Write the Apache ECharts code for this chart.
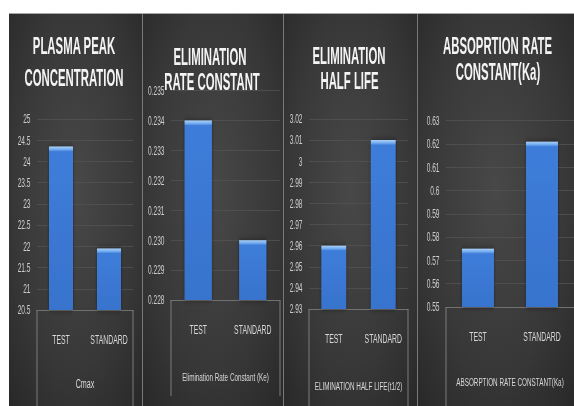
<!DOCTYPE html>
<html><head><meta charset="utf-8">
<script src="https://cdn.jsdelivr.net/npm/echarts@6/dist/echarts.min.js"></script>
<style>
html,body{margin:0;padding:0;background:#fff;overflow:hidden;width:574px;height:406px}
#c{width:1044px;height:406px;transform:scaleX(0.549808);transform-origin:0 0}
</style></head><body><div id="c"></div>
<script>
// ---- data ----
const categories = ['TEST', 'STANDARD'];
const cmax = [24.35, 21.95];
const ke = [0.234, 0.230];
const halfLife = [2.96, 3.01];
const ka = [0.575, 0.621];
const titleLines = [
  ['PLASMA PEAK', 'CONCENTRATION'],
  ['ELIMINATION', 'RATE CONSTANT'],
  ['ELIMINATION', 'HALF LIFE'],
  ['ABSOPRTION RATE', 'CONSTANT(Ka)']
];
const axisNames = ['Cmax', 'Elimination Rate Constant (Ke)', 'ELIMINATION HALF LIFE(t1/2)', 'ABSORPTION RATE CONSTANT(Ka)'];
const yMin = [20.5, 0.228, 2.93, 0.55];
const yMax = [25, 0.235, 3.02, 0.63];
const yStep = [0.5, 0.001, 0.01, 0.01];
const yDecimals = [1, 3, 2, 2];
const yKeepZeros = [false, true, false, false];

const seriesData = [cmax, ke, halfLife, ka];

// ---- layout (reference pixel coords; x scaled into the widened canvas) ----
const K = 1044 / 574;
const X = x => x * K;
const grids = [
  {l: 37, r: 133, t: 119, b: 310},
  {l: 171, r: 280, t: 90.7, b: 300},
  {l: 309, r: 408, t: 119, b: 309},
  {l: 446, r: 577, t: 120.7, b: 307}
];
const panels = [[9, 142.5], [142.5, 283.5], [283.5, 417.5], [417.5, 574]];
const titlePos = [
  [[74, 46], [74, 78]],
  [[210, 57.5], [212, 82]],
  [[349, 56], [349.5, 81]],
  [[497.5, 46], [498, 72]]
];
const nameGaps = [67, 71, 71, 69];
const boxLines = [
  [37, 310, 406], [133, 310, 406],
  [171, 300, 396], [280, 300, 396],
  [309, 309, 406], [408, 309, 406],
  [446, 307, 406]
];

const chart = echarts.init(document.getElementById('c'), null, {renderer: 'svg', width: 1044, height: 406});

const graphic = [];
panels.forEach(p => {
  graphic.push({
    type: 'rect', z: -100,
    shape: {x: X(p[0]), y: 13, width: X(p[1]) - X(p[0]), height: 393},
    style: {fill: new echarts.graphic.RadialGradient(0.5, 0.45, 0.75, [
      {offset: 0, color: '#484848'}, {offset: 0.6, color: '#383838'}, {offset: 1, color: '#282828'}
    ])}
  });
});
[142.5, 283.5, 417.5].forEach(x => graphic.push({
  type: 'line', z: 50, shape: {x1: X(x), y1: 13, x2: X(x), y2: 406},
  style: {stroke: '#7a7a7a', lineWidth: 1.8}
}));
graphic.push({type: 'line', z: 50, shape: {x1: X(9), y1: 13.5, x2: X(574), y2: 13.5}, style: {stroke: '#a8a8a8', lineWidth: 1.2}});
boxLines.forEach(b => graphic.push({
  type: 'line', z: 50, shape: {x1: X(b[0]), y1: b[1], x2: X(b[0]), y2: b[2]},
  style: {stroke: '#7c7c7c', lineWidth: 1.8}
}));
titleLines.forEach((lines, i) => lines.forEach((t, j) => graphic.push({
  type: 'text', z: 100, x: X(titlePos[i][j][0]), y: titlePos[i][j][1], scaleX: 0.9,
  style: {
    text: t, fill: '#f4f4f4', fontSize: 23, fontWeight: 'bold', fontFamily: 'Liberation Sans',
    align: 'center', verticalAlign: 'middle', textAlign: 'center', textVerticalAlign: 'middle',
    shadowBlur: 6, shadowColor: 'rgba(255,255,255,0.45)'
  }
})));

function fmt(i) {
  return v => yKeepZeros[i] ? v.toFixed(yDecimals[i]) : String(Number(v.toFixed(yDecimals[i])));
}
function barColor(i) {
  const g = grids[i];
  return p => {
    const h = (p.value - yMin[i]) / (yMax[i] - yMin[i]) * (g.b - g.t);
    const f = Math.min(0.5, 5 / h);
    return new echarts.graphic.LinearGradient(0, 0, 0, 1, [
      {offset: 0, color: '#a8d0fa'}, {offset: f * 0.6, color: '#72aaee'},
      {offset: f, color: '#3d7dd9'}, {offset: 1, color: '#3873cd'}
    ]);
  };
}

const option = {
  backgroundColor: 'transparent',
  animation: false,
  graphic: graphic,
  grid: grids.map(g => ({left: X(g.l), top: g.t, width: X(g.r) - X(g.l), height: g.b - g.t, containLabel: false})),
  xAxis: grids.map((g, i) => ({
    type: 'category', gridIndex: i, data: categories,
    axisLine: {show: true, lineStyle: {color: '#7c7c7c', width: 1}},
    axisTick: {show: false},
    axisLabel: {color: '#d8d8d8', fontSize: 12.5, margin: 23, fontFamily: 'Liberation Sans', interval: 0},
    name: axisNames[i], nameLocation: 'middle', nameGap: nameGaps[i],
    nameTextStyle: {color: '#d8d8d8', fontSize: i === 0 ? 13 : 11.5, fontFamily: 'Liberation Sans'}
  })),
  yAxis: grids.map((g, i) => ({
    type: 'value', gridIndex: i, min: yMin[i], max: yMax[i], interval: yStep[i],
    axisLine: {show: false}, axisTick: {show: false},
    splitLine: {show: true, lineStyle: {color: '#535353', width: 1}},
    axisLabel: {color: '#cdcdcd', fontSize: 12, margin: X(6.5), fontFamily: 'Liberation Sans', formatter: fmt(i)}
  })),
  series: seriesData.map((d, i) => ({
    type: 'bar', xAxisIndex: i, yAxisIndex: i, data: d, barWidth: '50%',
    itemStyle: {color: barColor(i), shadowColor: 'rgba(0,0,0,0.45)', shadowBlur: 6}
  }))
};
chart.setOption(option);
</script></body></html>
